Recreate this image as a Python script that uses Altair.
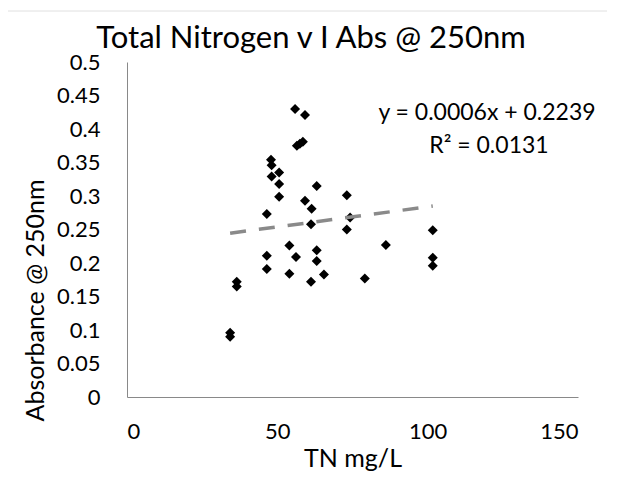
import altair as alt
import pandas as pd

# Data
tn = [55.9, 59.2, 56.5, 58.5, 57.5, 47.9, 48.1, 50.6, 48.1, 50.6, 63.1, 50.6,
      59.2, 61.4, 73.1, 46.5, 61.2, 74.2, 73.1, 101.7, 54.0, 63.1, 86.1, 46.5,
      56.2, 63.1, 101.7, 101.7, 46.5, 54.0, 65.5, 61.2, 79.1, 36.5, 36.5, 34.3, 34.3]
absorb = [0.430, 0.421, 0.375, 0.381, 0.378, 0.354, 0.346, 0.335, 0.329, 0.318, 0.315, 0.299,
          0.293, 0.281, 0.301, 0.273, 0.258, 0.268, 0.250, 0.249, 0.226, 0.219, 0.227, 0.211,
          0.209, 0.203, 0.208, 0.196, 0.191, 0.184, 0.183, 0.172, 0.177, 0.172, 0.165, 0.096, 0.090]

slope = 0.0006
intercept = 0.2239
title_text = ["Total Nitrogen v I Abs @ 250nm"]
eq_text = ["y = 0.0006x + 0.2239"]
r2_text = ["R² = 0.0131"]
x_ticks = [0, 50, 100, 150]
y_ticks = [0, 0.05, 0.1, 0.15, 0.2, 0.25, 0.3, 0.35, 0.4, 0.45, 0.5]

FONT = "Lato"

df = pd.DataFrame({"TN": tn, "Abs": absorb})
trend = pd.DataFrame({"TN": [min(tn), max(tn)]})
trend["Abs"] = slope * trend["TN"] + intercept

x_enc = alt.X("TN:Q", scale=alt.Scale(domain=[0, 150], nice=False, zero=True),
              axis=alt.Axis(values=x_ticks, title="TN mg/L", labelPadding=24,
                            labelOverlap=False, titleY=61, titleBaseline="middle"))
y_enc = alt.Y("Abs:Q", scale=alt.Scale(domain=[0, 0.5], nice=False),
              axis=alt.Axis(values=y_ticks, format=".2~f", title="Absorbance @ 250nm",
                            labelPadding=27, labelOverlap=False, titleX=-92, titleY=238,
                            titleAngle=-90, titleAlign="center", titleBaseline="middle"))

# faint chart-area border line along the top (decoration)
frame = alt.Chart(pd.DataFrame({"label": title_text})).mark_rule(
    color="#e0e0e0", strokeWidth=1).encode(
    x=alt.value(-119), x2=alt.value(480), y=alt.value(-51))

points = alt.Chart(df).mark_point(shape="diamond", filled=True, color="black",
                                  size=100, opacity=1).encode(x=x_enc, y=y_enc)

line = alt.Chart(trend).mark_line(color="#8a8a8a", strokeWidth=3.5,
                                  strokeDash=[16, 13], strokeCap="butt").encode(
    x=x_enc, y=y_enc)

title = alt.Chart(pd.DataFrame({"label": title_text})).mark_text(
    font=FONT, fontSize=31, color="black", align="center", baseline="alphabetic").encode(
    text="label:N", x=alt.value(184), y=alt.value(-14))

eq = alt.Chart(pd.DataFrame({"label": eq_text})).mark_text(
    font=FONT, fontSize=23, color="black", align="center", baseline="alphabetic").encode(
    text="label:N", x=alt.value(360), y=alt.value(58))

r2 = alt.Chart(pd.DataFrame({"label": r2_text})).mark_text(
    font=FONT, fontSize=23, color="black", align="center", baseline="alphabetic").encode(
    text="label:N", x=alt.value(362), y=alt.value(91))

chart = alt.layer(points, line, eq, r2, title, frame).properties(
    width=451, height=335,
    autosize=alt.AutoSizeParams(type="none"),
    padding={"left": 119, "top": 54, "right": 30, "bottom": 74},
).configure_view(stroke="transparent").configure_axis(
    domainColor="#898989", domainWidth=1, ticks=False, grid=False, labelOverlap=False,
    labelFont=FONT, labelFontSize=22, labelColor="black",
    titleFont=FONT, titleFontSize=25, titleFontWeight="normal", titleColor="black",
)

chart.save("out.html", embed_options={"renderer": "svg", "actions": False})
